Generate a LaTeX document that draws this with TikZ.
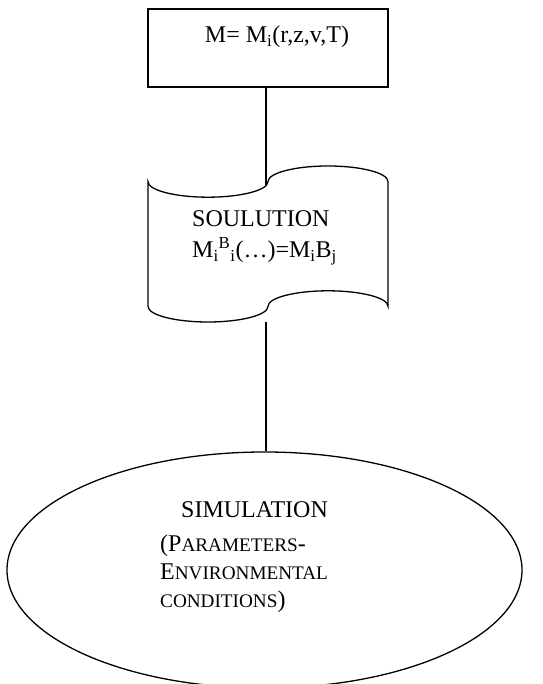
\documentclass[tikz,border=0pt]{standalone}
\usepackage{fontspec}
\setmainfont{Liberation Serif}
\usetikzlibrary{shapes.geometric}
% fake small capitals at about 80% of the body size
\newcommand\smcap[1]{{\fontsize{19.2}{22}\selectfont #1}}
\begin{document}
\begin{tikzpicture}[x=1pt,y=1pt,
  outline/.style={draw=black,line width=1.3pt},
  link/.style={draw=black,line width=1.3pt},
  label/.style={anchor=base west,inner sep=0pt,font=\fontsize{24}{29}\selectfont}]
\useasboundingbox (0,0) rectangle (542,684);

% model box
\node[outline,minimum width=240pt,minimum height=78pt,inner sep=0pt] (model) at (268,636) {};
\node[label,anchor=base] (modeltext) at (277,641)
  {M= M\textsubscript{i}(r,z,v,T)};

% punched-tape shape holding the solution
\draw[outline,line join=miter]
  (148,502.4) arc[start angle=180,end angle=360,x radius=60,y radius=15.6]
              arc[start angle=180,end angle=0,x radius=60,y radius=15.6]
  -- (388,377.6)
              arc[start angle=0,end angle=180,x radius=60,y radius=15.6]
              arc[start angle=0,end angle=-180,x radius=60,y radius=15.6]
  -- cycle;
\coordinate (tapetop) at (266,499);
\coordinate (tapebottom) at (266,362);
\node[label] (soltitle) at (192,457) {SOULUTION};
\node[label] (solformula) at (192,426)
  {M\textsubscript{i}\textsuperscript{B}\textsubscript{i}(\dots)=M\textsubscript{i}B\textsubscript{j}};

% simulation ellipse
\node[outline,ellipse,minimum width=515pt,minimum height=236pt,inner sep=0pt] (sim) at (264.5,114) {};
\node[label] (simtitle) at (181,166) {SIMULATION};
\node[label] (simline1) at (160,132) {(P\smcap{ARAMETERS}-};
\node[label] (simline2) at (160,104) {E\smcap{NVIRONMENTAL}};
\node[label] (simline3) at (160,76) {\smcap{CONDITIONS})};

% connectors
\draw[link] (model.south -| tapetop) -- (tapetop);
\draw[link] (tapebottom) -- (tapebottom |- sim.north);
\end{tikzpicture}
\end{document}
